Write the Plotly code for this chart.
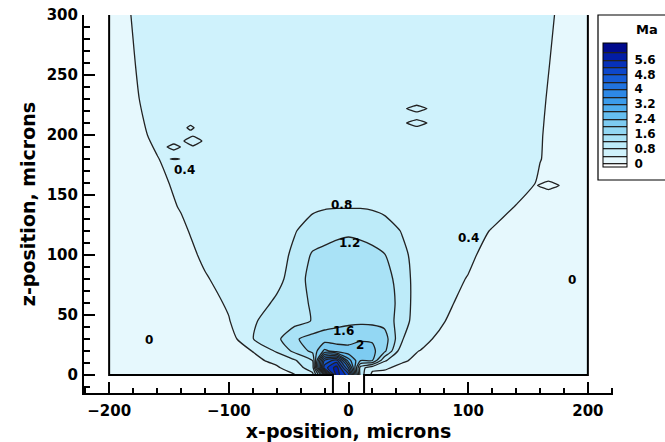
import plotly.graph_objects as go

# ---------------- data ----------------
x_pos = [-200, -180, -160, -140, -120, -100, -80, -60, -45, -30, -20, -10, 0,
         10, 20, 30, 45, 60, 80, 100, 120, 140, 160, 180, 200]
z_pos = [0, 6, 12, 20, 30, 45, 60, 80, 100, 120, 140, 160, 180, 200, 230, 260, 300]

# Mach number, rows follow z_pos (bottom to top), columns follow x_pos
mach = [
    [0.05, 0.08, 0.08, 0.10, 0.10, 0.12, 0.15, 0.25, 0.38, 0.70, 2.50, 5.80, 5.00, 1.00, 0.30, 0.30, 0.25, 0.20, 0.18, 0.15, 0.14, 0.12, 0.12, 0.10, 0.08],
    [0.08, 0.10, 0.10, 0.12, 0.12, 0.15, 0.20, 0.35, 0.60, 1.00, 5.00, 5.80, 4.00, 1.00, 0.50, 0.45, 0.30, 0.22, 0.20, 0.18, 0.16, 0.15, 0.14, 0.12, 0.10],
    [0.10, 0.12, 0.12, 0.14, 0.15, 0.18, 0.30, 0.50, 0.75, 1.20, 4.50, 5.00, 3.00, 2.00, 2.00, 0.85, 0.45, 0.30, 0.22, 0.20, 0.18, 0.18, 0.16, 0.15, 0.12],
    [0.10, 0.12, 0.15, 0.18, 0.20, 0.20, 0.41, 0.85, 1.30, 1.70, 2.50, 2.20, 2.10, 2.20, 2.10, 1.70, 0.50, 0.39, 0.25, 0.22, 0.20, 0.20, 0.20, 0.18, 0.15],
    [0.10, 0.15, 0.18, 0.20, 0.22, 0.20, 0.79, 1.10, 1.55, 1.75, 1.80, 1.85, 1.90, 1.95, 1.95, 1.80, 0.82, 0.55, 0.25, 0.22, 0.20, 0.20, 0.20, 0.18, 0.15],
    [0.12, 0.18, 0.20, 0.22, 0.25, 0.38, 0.76, 0.96, 1.05, 1.22, 1.40, 1.45, 1.50, 1.52, 1.50, 1.45, 0.98, 0.53, 0.41, 0.25, 0.22, 0.22, 0.20, 0.20, 0.18],
    [0.12, 0.18, 0.20, 0.22, 0.25, 0.45, 0.60, 0.87, 0.98, 1.27, 1.40, 1.45, 1.50, 1.52, 1.50, 1.45, 1.03, 0.53, 0.50, 0.25, 0.22, 0.22, 0.20, 0.20, 0.18],
    [0.12, 0.18, 0.20, 0.22, 0.36, 0.56, 0.60, 0.68, 0.98, 1.35, 1.40, 1.42, 1.45, 1.47, 1.47, 1.46, 0.90, 0.68, 0.54, 0.38, 0.25, 0.22, 0.20, 0.20, 0.18],
    [0.12, 0.20, 0.22, 0.22, 0.48, 0.60, 0.62, 0.66, 0.87, 1.25, 1.30, 1.33, 1.35, 1.33, 1.30, 1.22, 0.87, 0.66, 0.60, 0.48, 0.25, 0.22, 0.20, 0.20, 0.18],
    [0.12, 0.20, 0.22, 0.31, 0.60, 0.62, 0.63, 0.66, 0.78, 0.95, 1.05, 1.12, 1.15, 1.12, 1.05, 0.95, 0.78, 0.66, 0.62, 0.60, 0.37, 0.25, 0.22, 0.20, 0.18],
    [0.12, 0.20, 0.22, 0.43, 0.60, 0.62, 0.64, 0.66, 0.70, 0.74, 0.77, 0.78, 0.78, 0.78, 0.76, 0.72, 0.68, 0.65, 0.62, 0.60, 0.60, 0.38, 0.25, 0.22, 0.18],
    [0.15, 0.22, 0.20, 0.60, 0.62, 0.62, 0.62, 0.62, 0.62, 0.62, 0.62, 0.62, 0.62, 0.62, 0.62, 0.62, 0.62, 0.62, 0.62, 0.62, 0.62, 0.60, 0.35, 0.25, 0.20],
    [0.15, 0.25, 0.38, 0.60, 0.62, 0.62, 0.62, 0.62, 0.62, 0.62, 0.62, 0.62, 0.62, 0.62, 0.62, 0.62, 0.62, 0.62, 0.62, 0.62, 0.62, 0.58, 0.41, 0.25, 0.20],
    [0.18, 0.25, 0.50, 0.60, 0.62, 0.62, 0.62, 0.62, 0.62, 0.62, 0.62, 0.62, 0.62, 0.62, 0.62, 0.62, 0.62, 0.62, 0.62, 0.62, 0.62, 0.58, 0.42, 0.25, 0.20],
    [0.20, 0.33, 0.60, 0.62, 0.62, 0.62, 0.62, 0.62, 0.62, 0.62, 0.62, 0.62, 0.62, 0.62, 0.62, 0.62, 0.62, 0.62, 0.62, 0.62, 0.62, 0.60, 0.45, 0.25, 0.20],
    [0.20, 0.38, 0.60, 0.62, 0.62, 0.62, 0.62, 0.62, 0.62, 0.62, 0.62, 0.62, 0.62, 0.62, 0.62, 0.62, 0.62, 0.62, 0.62, 0.62, 0.62, 0.62, 0.55, 0.18, 0.15],
    [0.20, 0.42, 0.60, 0.62, 0.62, 0.62, 0.62, 0.62, 0.62, 0.62, 0.62, 0.62, 0.62, 0.62, 0.62, 0.62, 0.62, 0.62, 0.62, 0.62, 0.62, 0.62, 0.60, 0.27, 0.20],
]

# small closed 0.4 contours (islands): centre x, centre z, half width, half height
island_x = [-132, -130, -146, -145, 57, 57, 167]
island_z = [206, 195, 190, 180, 222, 210, 158]
island_hw = [3, 7.5, 5.5, 4, 8.5, 8.5, 9]
island_hh = [2, 4, 2.5, 0.6, 2.8, 2.8, 3.5]
island_inside = [0.2, 0.2, 0.2, 0.2, 0.2, 0.2, 0.6]
island_outside = [0.6, 0.6, 0.6, 0.6, 0.6, 0.6, 0.2]

# blank (no data) patch near the nozzle exit
mask_x_edges = [-4, 6, 16, 26, 34]
mask_z_edges = [0, 7, 13, 19]
mask = [[None, 1, 1, 1],
        [1, 1, 1, None],
        [None, 1, 1, None]]

# geometry outline (domain walls and nozzle)
wall_x = [-200, -200, -13, -13, None, 13, 13, 200, 200]
wall_z = [300, 0, 0, -15, None, -15, 0, 0, 300]

# contour labels
label_x = [-137, -6, 100, 187, -167, 1, -4, 10]
label_z = [171, 142, 114, 79, 29, 110, 37, 25]
label_text = ["0.4", "0.8", "0.4", "0", "0", "1.2", "1.6", "2"]

# contour levels and band colours (below 0, 0-0.4, ..., above 6.0)
level_start, level_end, level_size = 0.0, 6.0, 0.4
band_colors = ["#FFFFFF", "#E6F8FD", "#CFF2FC", "#BDEBF9", "#A9E2F6", "#93D7F3",
               "#7DCBF1", "#66BEF0", "#50AEEE", "#3C9CEB", "#2D88E6", "#2173DF",
               "#165DD6", "#0D47CA", "#0631BA", "#021DA5", "#000A8C"]
legend_ticks = [0, 0.8, 1.6, 2.4, 3.2, 4, 4.8, 5.6]
legend_text = ["0", "0.8", "1.6", "2.4", "3.2", "4", "4.8", "5.6"]

# ---------------- figure ----------------
W, H = 665, 442
ML, MR, MT, MB = 84, 52, 15, 49
PW, PH = W - ML - MR, H - MT - MB


def px_x(p):
    return (p - ML) / PW


def px_y(p):
    return (H - MB - p) / PH


n = len(band_colors) - 1
colorscale = []
for i, c in enumerate(band_colors):
    colorscale.append([max(0.0, (i - 0.5) / n), c])
    colorscale.append([min(1.0, (i + 0.5) / n), c])

LINE = "#222222"
FONT = "DejaVu Sans"

fig = go.Figure()
fig.add_trace(go.Contour(
    x=x_pos, y=z_pos, z=mach,
    autocontour=False,
    contours=dict(start=level_start, end=level_end, size=level_size,
                  coloring="fill", showlines=True),
    line=dict(color=LINE, width=1.3, smoothing=0.6),
    colorscale=colorscale, zauto=False, zmin=-0.2, zmax=6.5,
    hoverinfo="skip",
    colorbar=dict(
        x=px_x(603), xanchor="left", xpad=0,
        y=px_y(43), yanchor="top", ypad=0,
        lenmode="pixels", len=124, thickness=24, thicknessmode="pixels",
        outlinewidth=1, outlinecolor="black",
        tickvals=legend_ticks, ticktext=legend_text,
        ticks="outside", ticklen=5, tickcolor="rgba(0,0,0,0)",
        tickfont=dict(family=FONT, size=12, color="black", weight="bold"),
    ),
))

for cx, cz, hw, hh, vin, vout in zip(island_x, island_z, island_hw, island_hh,
                                      island_inside, island_outside):
    fig.add_trace(go.Contour(
        x=[cx - 2 * hw, cx, cx + 2 * hw], y=[cz - 2 * hh, cz, cz + 2 * hh],
        z=[[vout, vout, vout], [vout, vin, vout], [vout, vout, vout]],
        autocontour=False,
        contours=dict(start=0.4, end=0.4, size=0.4, coloring="none"),
        line=dict(color=LINE, width=1.3, smoothing=0.3),
        showscale=False, hoverinfo="skip",
    ))

fig.add_trace(go.Heatmap(
    x=mask_x_edges, y=mask_z_edges, z=mask,
    colorscale=[[0, "white"], [1, "white"]], showscale=False,
    hoverinfo="skip",
))

fig.add_trace(go.Scatter(
    x=wall_x, y=wall_z, mode="lines",
    line=dict(color="black", width=2), cliponaxis=False,
    hoverinfo="skip", showlegend=False,
))

for lx, lz, lt in zip(label_x, label_z, label_text):
    fig.add_annotation(x=lx, y=lz, text=lt, showarrow=False,
                       xanchor="center", yanchor="middle",
                       font=dict(family=FONT, size=12, color="black", weight="bold"))

# legend frame and title
fig.add_shape(type="rect", xref="paper", yref="paper",
              x0=px_x(598), x1=px_x(670), y0=px_y(180), y1=px_y(15),
              line=dict(color="black", width=1.2), fillcolor="rgba(0,0,0,0)")
fig.add_annotation(xref="paper", yref="paper", x=px_x(647), y=px_y(30),
                   xanchor="center", yanchor="middle",
                   text="Ma", showarrow=False,
                   font=dict(family=FONT, size=13, color="black", weight="bold"))

axis_common = dict(
    showgrid=False, zeroline=False, showline=True, linecolor="black", linewidth=2,
    ticks="inside", ticklen=11, tickwidth=2, tickcolor="black",
    tickfont=dict(family=FONT, size=15, color="black", weight="bold"),
)
fig.update_xaxes(
    range=[-221, 221], tickvals=[-200, -100, 0, 100, 200],
    minor=dict(ticks="inside", dtick=20, tick0=0, ticklen=5, tickwidth=1.5, tickcolor="black"),
    title=dict(text="x-position, microns", standoff=6,
               font=dict(family=FONT, size=19, color="black", weight="bold")),
    ticklabelstandoff=3,
    **axis_common,
)
fig.update_yaxes(
    range=[-15, 300], tickvals=[0, 50, 100, 150, 200, 250, 300],
    minor=dict(ticks="inside", dtick=10, tick0=0, ticklen=6, tickwidth=1.5, tickcolor="black"),
    title=dict(text="z-position, microns", standoff=6,
               font=dict(family=FONT, size=19, color="black", weight="bold")),
    ticklabelstandoff=1,
    **axis_common,
)

fig.update_layout(
    width=W, height=H,
    margin=dict(l=ML, r=MR, t=MT, b=MB, autoexpand=False),
    plot_bgcolor="white", paper_bgcolor="white",
    showlegend=False,
)

fig.write_html("out.html")
